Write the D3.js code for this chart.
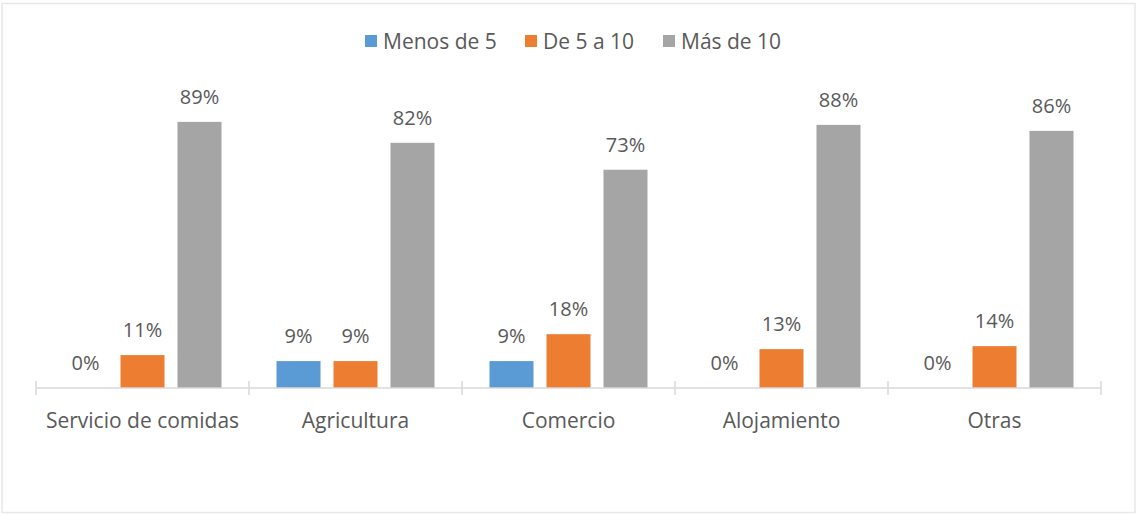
<!DOCTYPE html>
<html>
<head>
<meta charset="utf-8">
<script src="https://cdn.jsdelivr.net/npm/d3@7"></script>
<style>
  body { margin: 0; background: #fff; }
  text { font-family: "Open Sans", sans-serif; fill: #595959; }
</style>
</head>
<body>
<div class="chart"></div>
<script>
// Data

var categories = ["Servicio de comidas", "Agricultura", "Comercio", "Alojamiento", "Otras"];
var series = ["Menos de 5", "De 5 a 10", "Más de 10"];
var colors = ["#5B9BD5", "#ED7D31", "#A5A5A5"];

var menosDe5 = [0, 9, 9, 0, 0];
var de5a10 = [11, 9, 18, 13, 14];
var masDe10 = [89, 82, 73, 88, 86];
var values = [menosDe5, de5a10, masDe10];

var svgWidth = 1138;
var svgHeight = 515;

var svg = d3.select(".chart")
    .append("svg")
    .attr("width", svgWidth)
    .attr("height", svgHeight);

// outer frame
svg.append("rect")
    .attr("x", 2)
    .attr("y", 3.5)
    .attr("width", 1133)
    .attr("height", 509)
    .attr("fill", "none")
    .attr("stroke", "#e8e8e8")
    .attr("stroke-width", 1.5);

var baseY = 388;

var x0 = d3.scaleBand()
    .domain(categories)
    .range([36, 1101]);

var groupW = 158;
var x1 = d3.scaleBand()
    .domain(series)
    .range([(x0.bandwidth() - groupW) / 2, (x0.bandwidth() + groupW) / 2])
    .paddingInner(0.228);

var y = d3.scaleLinear()
    .domain([0, 100])
    .range([baseY, baseY - 299]);

// flatten into rows
var rows = [];
categories.forEach(function(cat, i) {
    series.forEach(function(s, j) {
        rows.push({ cat: cat, series: s, idx: j, value: values[j][i] });
    });
});

var chart = svg.append("g");

chart.selectAll("rect.bar")
    .data(rows.filter(function(d) { return d.value > 0; }))
    .enter()
    .append("rect")
    .attr("class", "bar")
    .attr("x", function(d) { return x0(d.cat) + x1(d.series); })
    .attr("y", function(d) { return y(d.value); })
    .attr("width", x1.bandwidth())
    .attr("height", function(d) { return baseY - y(d.value); })
    .attr("fill", function(d) { return colors[d.idx]; });

// value labels
chart.selectAll("text.val")
    .data(rows)
    .enter()
    .append("text")
    .attr("class", "val")
    .attr("x", function(d) { return x0(d.cat) + x1(d.series) + x1.bandwidth() / 2; })
    .attr("y", function(d) { return y(d.value) - 18; })
    .attr("text-anchor", "middle")
    .attr("font-size", "20px")
    .text(function(d) { return d.value + "%"; });

// category axis
var bottomAxis = d3.axisBottom(x0).tickSize(0).tickPadding(0);
var axisG = chart.append("g")
    .attr("transform", "translate(0," + baseY + ")")
    .call(bottomAxis);
axisG.select(".domain").remove();
axisG.selectAll(".tick text")
    .attr("y", 40)
    .attr("dy", 0)
    .attr("font-size", "21px")
    .attr("font-family", "Open Sans, sans-serif")
    .attr("fill", "#595959");

axisG.append("line")
    .attr("x1", 36).attr("x2", 1101)
    .attr("y1", 0).attr("y2", 0)
    .attr("stroke", "#d9d9d9")
    .attr("stroke-width", 1.5);

var bounds = categories.map(function(c) { return x0(c); }).concat([x0.range()[1]]);
axisG.selectAll("line.sep")
    .data(bounds)
    .enter()
    .append("line")
    .attr("class", "sep")
    .attr("x1", function(d) { return d; })
    .attr("x2", function(d) { return d; })
    .attr("y1", -7)
    .attr("y2", 7)
    .attr("stroke", "#d9d9d9")
    .attr("stroke-width", 1.5);

// legend
var legendX = [365, 525, 663];
var legend = svg.append("g");
series.forEach(function(s, j) {
    legend.append("rect")
        .attr("x", legendX[j])
        .attr("y", 35)
        .attr("width", 12)
        .attr("height", 12)
        .attr("fill", colors[j]);
    legend.append("text")
        .attr("x", legendX[j] + 18)
        .attr("y", 48.5)
        .attr("font-size", "21px")
        .text(s);
});
</script>
</body>
</html>
